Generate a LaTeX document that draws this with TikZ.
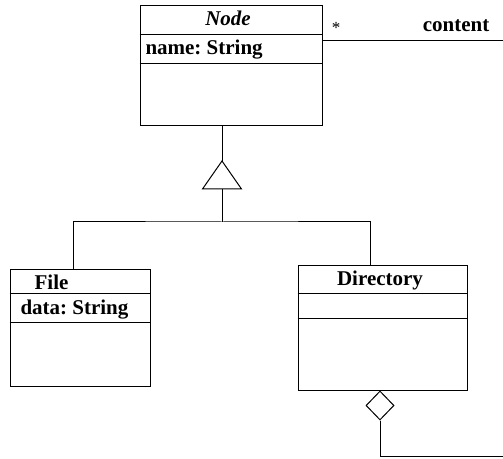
\documentclass[tikz,border=0pt]{standalone}
\usepackage{fontspec}
\setmainfont{Liberation Serif}
\usetikzlibrary{shapes.geometric}
\frenchspacing

\begin{document}
\begin{tikzpicture}[x=1pt, y=1pt, line width=1pt,
    classbox/.style={draw, rectangle, inner sep=0pt},
    lbl/.style={inner sep=0pt, font=\fontsize{21}{25}\selectfont\bfseries}]
    \useasboundingbox (0,0) rectangle (503,458);
    % classes
    \node [classbox, minimum width=182pt, minimum height=120pt] (nodeCls) at (231,392) {};
    \node [classbox, minimum width=140pt, minimum height=116pt] (fileCls) at (80,130) {};
    \node [classbox, minimum width=169pt, minimum height=124pt] (dirCls) at (382.5,130) {};
    \draw ([yshift=-29pt]nodeCls.north west) -- ([yshift=-29pt]nodeCls.north east);
    \draw ([yshift=-58pt]nodeCls.north west) -- ([yshift=-58pt]nodeCls.north east);
    \draw ([yshift=-24pt]fileCls.north west) -- ([yshift=-24pt]fileCls.north east);
    \draw ([yshift=-53pt]fileCls.north west) -- ([yshift=-53pt]fileCls.north east);
    \draw ([yshift=-28pt]dirCls.north west) -- ([yshift=-28pt]dirCls.north east);
    \draw ([yshift=-53pt]dirCls.north west) -- ([yshift=-53pt]dirCls.north east);
    \node [lbl, anchor=base] (nodeName) at (228,432) {\itshape Node};
    \node [lbl, anchor=base west] (nodeAttr) at (145,403) {name: String};
    \node [lbl, anchor=base] (fileName) at (51.5,168) {File};
    \node [lbl, anchor=base west] (fileAttr) at (20,143.7) {data: String};
    \node [lbl, anchor=base] (dirName) at (380,172.3) {Directory};
    % generalization
    \coordinate (genTip) at (222,297);
    \coordinate (genBase) at (222,269);
    \draw (genTip |- nodeCls.south) -- (genTip);
    \draw (genTip) -- ([xshift=-19.5pt]genBase) -- ([xshift=19.5pt]genBase) -- cycle;
    \draw (genBase) -- ++(0,-33) coordinate (bus);
    \draw ([xshift=-7pt]fileCls.north) |- (bus) -| ([xshift=-12.5pt]dirCls.north);
    % content association
    \coordinate (contentEnd) at (503,417);
    \draw (contentEnd -| nodeCls.east) -- (contentEnd);
    \node [inner sep=0pt, anchor=base, font=\fontsize{17}{19}\selectfont] (mult) at (336,424.5) {*};
    \node [lbl, anchor=base] (role) at (456,426.3) {content};
    % aggregation
    \node [draw, diamond, inner sep=0pt, minimum width=28pt, minimum height=29pt,
        anchor=north] (agg) at ([xshift=-2.5pt]dirCls.south) {};
    \coordinate (aggEnd) at (503,1.5);
    \draw (agg.south) |- (aggEnd);
\end{tikzpicture}
\end{document}
